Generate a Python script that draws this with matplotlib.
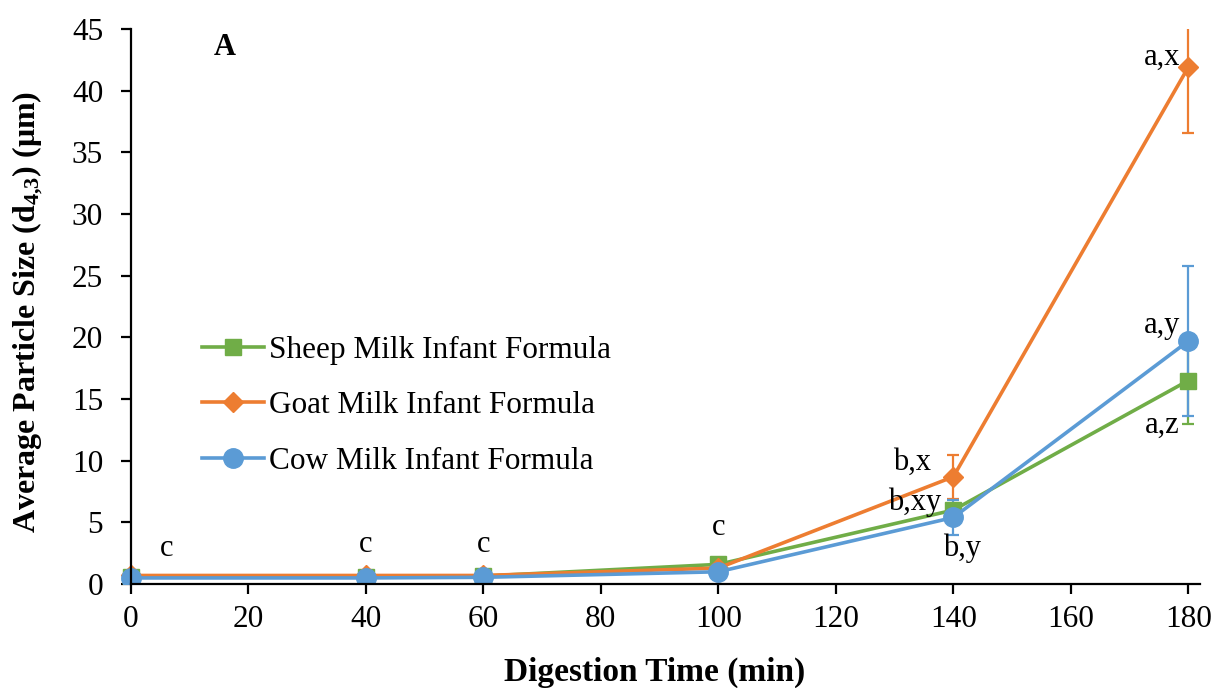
import matplotlib
matplotlib.use('Agg')
import matplotlib.pyplot as plt
from matplotlib.lines import Line2D

plt.rcParams['font.family'] = ['Liberation Serif', 'DejaVu Serif']
plt.rcParams['mathtext.fontset'] = 'custom'
plt.rcParams['mathtext.rm'] = 'Liberation Serif'
plt.rcParams['mathtext.bf'] = 'Liberation Serif:bold'

time = [0, 40, 60, 100, 140, 180]

sheep = [0.6, 0.6, 0.65, 1.6, 6.0, 16.5]
sheep_err = [0.1, 0.1, 0.1, 0.2, 0.4, 3.5]
goat = [0.7, 0.7, 0.7, 1.3, 8.7, 41.9]
goat_err = [0.1, 0.1, 0.1, 0.2, 1.8, 5.3]
cow = [0.5, 0.5, 0.55, 1.0, 5.4, 19.7]
cow_err = [0.1, 0.1, 0.1, 0.2, 1.4, 6.1]

names = ['Sheep Milk Infant Formula', 'Goat Milk Infant Formula', 'Cow Milk Infant Formula']
colors = ['#70AD47', '#ED7D31', '#5B9BD5']
markers = ['s', 'D', 'o']
msizes = [12, 10, 14]

# significance letters: (text, x, y)
letters = [('c', 6, 2.9), ('c', 40, 3.2), ('c', 60, 3.2), ('c', 100, 4.6),
           ('b,x', 133, 9.9), ('b,xy', 133.5, 6.6), ('b,y', 141.5, 2.9),
           ('a,x', 175.5, 42.7), ('a,y', 175.5, 21.0), ('a,z', 175.5, 12.9)]

fig = plt.figure(figsize=(12.16, 6.88), dpi=100)
ax = fig.add_axes([0.098, 0.151, 0.8889, 0.807])

series = [(sheep, sheep_err), (goat, goat_err), (cow, cow_err)]
handles = []
for (vals, err), name, c, m, ms in zip(series, names, colors, markers, msizes):
    ax.errorbar(time, vals, yerr=err, color=c, marker=m, markersize=ms,
                linewidth=2.6, elinewidth=1.6, capsize=4.5, capthick=1.6)
    handles.append(Line2D([], [], color=c, marker=m, markersize=ms,
                          linewidth=2.6, label=name))

for txt, x, y in letters:
    ax.text(x, y, txt, fontsize=22, ha='center', va='center')

ax.text(16, 43.5, 'A', fontsize=22, fontweight='bold', ha='center', va='center')

ax.set_xlim(-2, 182)
ax.set_ylim(0, 45)
ax.set_xticks(range(0, 181, 20))
ax.set_yticks(range(0, 46, 5))
ax.tick_params(labelsize=22.5, width=1.6, length=7, direction='out')
ax.tick_params(axis='y', pad=13)
ax.tick_params(axis='x', pad=8)
ax.spines['top'].set_visible(False)
ax.spines['right'].set_visible(False)
ax.spines['left'].set_linewidth(1.6)
ax.spines['bottom'].set_linewidth(1.6)
ax.spines['left'].set_position(('data', 0))
ax.spines['bottom'].set_bounds(0, 182)

ax.set_xlabel('Digestion Time (min)', fontsize=24, fontweight='bold')
ax.set_ylabel(r'Average Particle Size ($\mathbf{d_{4{,}3}}$) (μm)', fontsize=23,
              fontweight='bold')
ax.xaxis.set_label_coords(0.495, -0.13)
ax.yaxis.set_label_coords(-0.069, 0.49)

ax.legend(handles=handles, loc='upper left', bbox_to_anchor=(0.065, 0.47),
          frameon=False, fontsize=22.5, handlelength=2.0, handletextpad=0.15,
          labelspacing=0.85, borderaxespad=0)

fig.savefig('out.png', dpi=100)
